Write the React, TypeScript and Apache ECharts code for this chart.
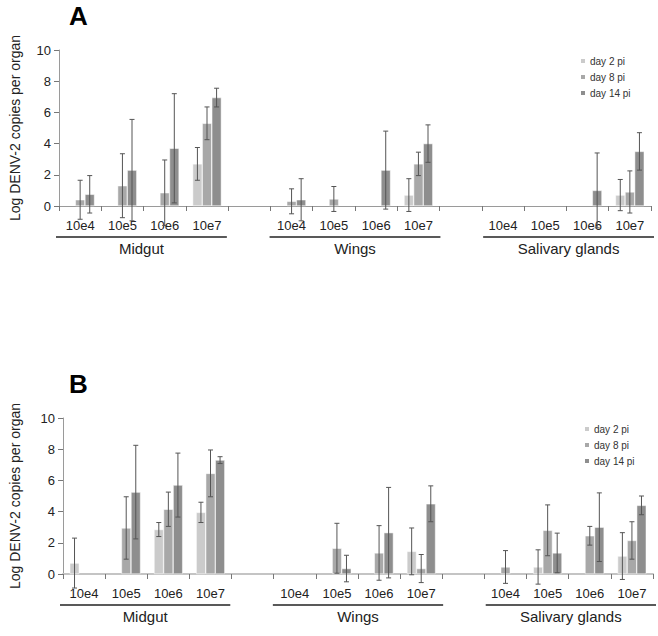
import React, { useEffect, useRef } from "react";
import * as echarts from "echarts";

// ---- data ----
const xLabels = ["10e4", "10e5", "10e6", "10e7", "", "10e4", "10e5", "10e6", "10e7", "", "10e4", "10e5", "10e6", "10e7"];
const groupNames = ["Midgut", "Wings", "Salivary glands"];
const groupStarts = [0, 5, 10];
const seriesNames = ["day 2 pi", "day 8 pi", "day 14 pi"];
const yTicks = [0, 2, 4, 6, 8, 10];

// Panel A (means and SDs, log copies)
const aDay2 = [null, null, null, 2.7, null, null, null, null, 0.7, null, null, null, null, 0.7];
const aDay2Sd = [null, null, null, 1.05, null, null, null, null, 1.05, null, null, null, null, 1.0];
const aDay8 = [0.4, 1.3, 0.85, 5.3, null, 0.3, 0.45, null, 2.7, null, null, null, null, 0.9];
const aDay8Sd = [1.25, 2.05, 2.1, 1.05, null, 0.8, 0.8, null, 0.75, null, null, null, null, 1.35];
const aDay14 = [0.75, 2.3, 3.7, 6.95, null, 0.4, null, 2.3, 4.0, null, null, null, 1.0, 3.5];
const aDay14Sd = [1.2, 3.25, 3.5, 0.6, null, 1.35, null, 2.5, 1.2, null, null, null, 2.4, 1.2];

// Panel B
const bDay2 = [0.7, null, 2.85, 3.95, null, null, null, null, 1.45, null, null, 0.45, null, 1.15];
const bDay2Sd = [1.6, null, 0.45, 0.65, null, null, null, null, 1.5, null, null, 1.1, null, 1.5];
const bDay8 = [null, 2.95, 4.15, 6.45, null, null, 1.65, 1.35, 0.35, null, 0.45, 2.8, 2.45, 2.15];
const bDay8Sd = [null, 2.0, 1.1, 1.5, null, null, 1.6, 1.75, 0.9, null, 1.05, 1.63, 0.6, 1.2];
const bDay14 = [null, 5.25, 5.7, 7.3, null, null, 0.35, 2.65, 4.5, null, null, 1.35, 3.0, 4.4];
const bDay14Sd = [null, 3.0, 2.05, 0.22, null, null, 0.85, 2.9, 1.15, null, null, 1.27, 2.2, 0.6];

const colors = ["#cbcbcb", "#a8a8a8", "#8e8e8e"];
const FONT = "'Liberation Sans', Arial, sans-serif";
const CAT_GAP = 0.32;

const panels = [
  { letter: "A", means: [aDay2, aDay8, aDay14], sds: [aDay2Sd, aDay8Sd, aDay14Sd], left: 53, top: 50, width: 598, height: 156, axisColor: "#9a9a9a", axisWidth: 1, legendLeft: 579, legendTop: 56, nameGap: 37 },
  { letter: "B", means: [bDay2, bDay8, bDay14], sds: [bDay2Sd, bDay8Sd, bDay14Sd], left: 57, top: 418, width: 596, height: 156, axisColor: "#c4c4c4", axisWidth: 2, legendLeft: 583, legendTop: 424, nameGap: 41 },
];

function buildOption() {
  const grid: any[] = [];
  const xAxis: any[] = [];
  const yAxis: any[] = [];
  const series: any[] = [];
  const legend: any[] = [];
  const graphic: any[] = [];

  panels.forEach((p, pi) => {
    grid.push({ left: p.left, top: p.top, width: p.width, height: p.height, containLabel: false });
    xAxis.push({
      type: "category",
      gridIndex: pi,
      data: xLabels.map((_, i) => String(i)),
      axisLine: { show: true, lineStyle: { color: p.axisColor, width: p.axisWidth } },
      axisTick: { show: true, length: 5, inside: false, alignWithLabel: false, lineStyle: { color: "#777" } },
      axisLabel: {
        interval: 0,
        margin: 13,
        fontSize: 13,
        color: "#222",
        fontFamily: FONT,
        formatter: (_v: string, idx: number) => xLabels[idx],
      },
      splitLine: { show: false },
    });
    yAxis.push({
      type: "value",
      gridIndex: pi,
      min: 0,
      max: 10,
      interval: 2,
      name: "Log DENV-2 copies per organ",
      nameLocation: "middle",
      nameGap: p.nameGap,
      nameTextStyle: { fontSize: 14, color: "#222", fontFamily: FONT },
      axisLine: { show: true, lineStyle: { color: "#9a9a9a", width: 1 } },
      axisTick: { show: true, length: 5, lineStyle: { color: "#777" } },
      axisLabel: { fontSize: 13, color: "#222", margin: 8, fontFamily: FONT, formatter: (v: number) => (yTicks.includes(v) ? String(v) : "") },
      splitLine: { show: false },
    });

    p.means.forEach((arr, k) => {
      series.push({
        name: seriesNames[k],
        type: "bar",
        xAxisIndex: pi,
        yAxisIndex: pi,
        data: arr.map((v) => (v == null ? "-" : v)),
        barGap: "0%",
        barCategoryGap: CAT_GAP * 100 + "%",
        itemStyle: { color: colors[k], borderColor: "#ffffff", borderWidth: 0.5 },
        z: 2,
      });
    });

    const errData: any[] = [];
    p.means.forEach((arr, k) => {
      arr.forEach((m, i) => {
        const s = p.sds[k][i];
        if (m != null && s != null) errData.push([i, m - s, m + s, k]);
      });
    });
    series.push({
      type: "custom",
      xAxisIndex: pi,
      yAxisIndex: pi,
      data: errData,
      encode: { x: 0, y: [1, 2] },
      z: 5,
      clip: false,
      silent: true,
      renderItem: (_params: any, api: any) => {
        const idx = api.value(0);
        const lo = api.value(1);
        const hi = api.value(2);
        const slot = api.value(3);
        const top = api.coord([idx, hi]);
        const bot = api.coord([idx, lo]);
        const band = api.size([1, 0])[0];
        const bw = (band * (1 - CAT_GAP)) / 3;
        const cx = top[0] + (slot - 1) * bw;
        const cap = 2.5;
        const style = { stroke: "#555", lineWidth: 1 };
        return {
          type: "group",
          children: [
            { type: "line", shape: { x1: cx, y1: top[1], x2: cx, y2: bot[1] }, style },
            { type: "line", shape: { x1: cx - cap, y1: top[1], x2: cx + cap, y2: top[1] }, style },
            { type: "line", shape: { x1: cx - cap, y1: bot[1], x2: cx + cap, y2: bot[1] }, style },
          ],
        };
      },
    });

    legend.push({
      orient: "vertical",
      left: p.legendLeft,
      top: p.legendTop,
      padding: 0,
      itemWidth: 6,
      itemHeight: 6,
      itemGap: 6,
      icon: "rect",
      selectedMode: false,
      data: seriesNames,
      textStyle: { fontSize: 10, color: "#333", fontFamily: FONT, padding: [0, 0, 0, -1] },
    });

    // panel letter
    graphic.push({
      type: "text",
      left: 69,
      top: p.top - 47,
      style: { text: p.letter, fontSize: 26, fontWeight: "bold", fill: "#000", fontFamily: FONT },
    });

    // group underlines and names
    const cw = p.width / xLabels.length;
    const axisY = p.top + p.height;
    groupStarts.forEach((gs, gi) => {
      const x1 = p.left + gs * cw + 3;
      const x2 = p.left + (gs + 4) * cw + 3;
      graphic.push({
        type: "line",
        shape: { x1, y1: axisY + 31, x2, y2: axisY + 31 },
        style: { stroke: "#222", lineWidth: 1.5 },
      });
      graphic.push({
        type: "text",
        x: (x1 + x2) / 2,
        y: axisY + 42,
        style: { text: groupNames[gi], fontSize: 15, fill: "#222", fontFamily: FONT, align: "center", verticalAlign: "middle" },
      });
    });
  });

  return {
    animation: false,
    backgroundColor: "#ffffff",
    color: colors,
    grid,
    xAxis,
    yAxis,
    series,
    legend,
    graphic,
  };
}

export default function App() {
  const ref = useRef<HTMLDivElement>(null);
  useEffect(() => {
    if (!ref.current) return;
    const chart = echarts.init(ref.current, undefined, { renderer: "svg" });
    chart.setOption(buildOption() as any);
    return () => chart.dispose();
  }, []);
  return <div ref={ref} style={{ position: "fixed", left: 0, top: 0, width: 658, height: 636, background: "#fff" }} />;
}
